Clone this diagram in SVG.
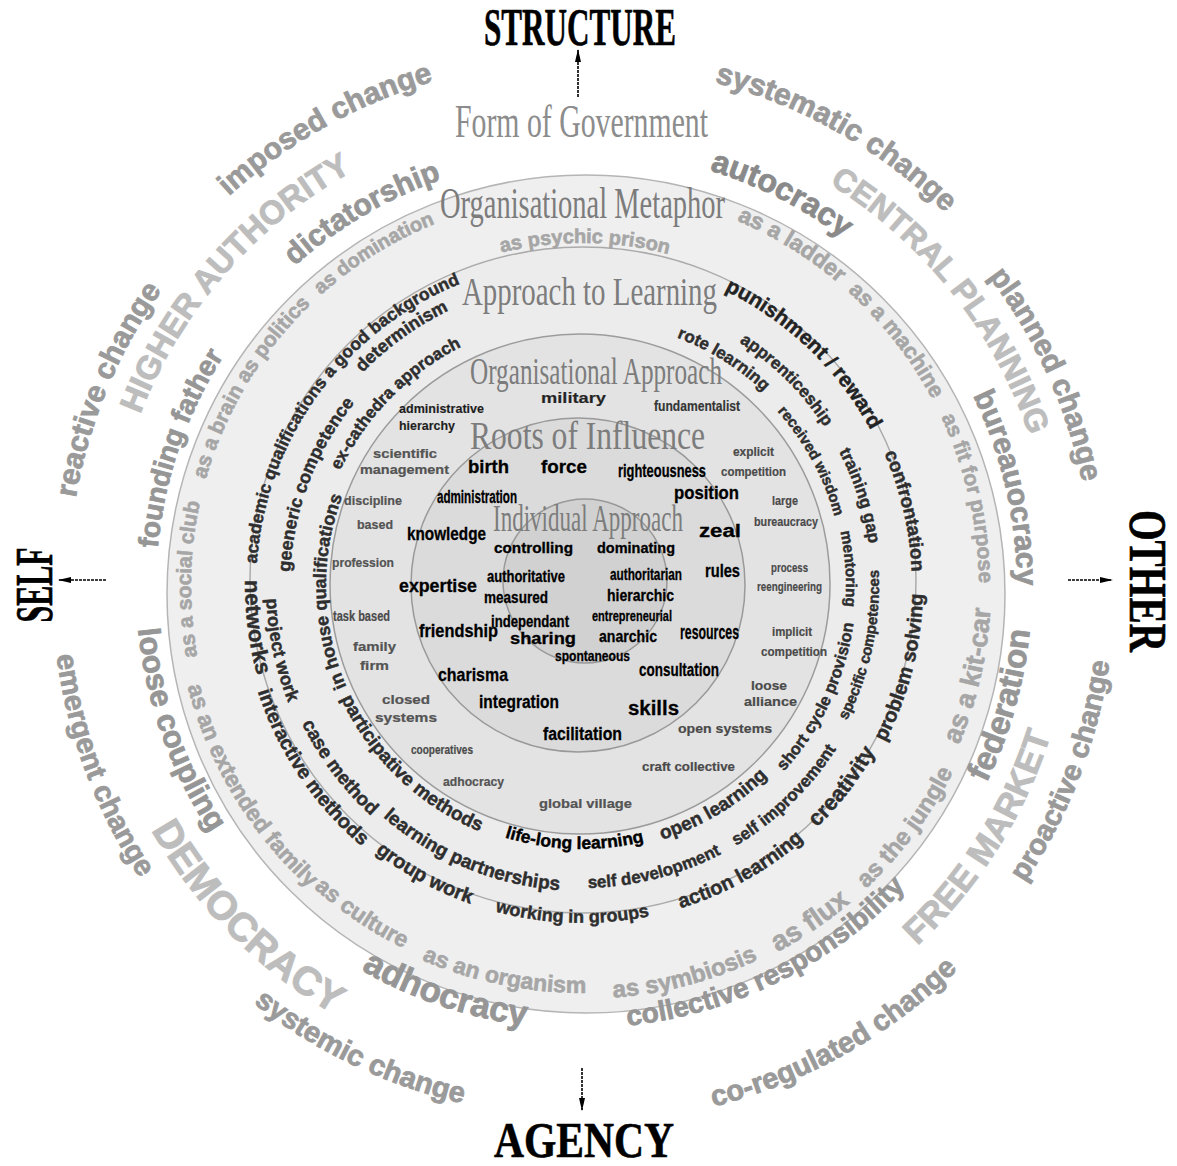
<svg xmlns="http://www.w3.org/2000/svg" width="1177" height="1166" viewBox="0 0 1177 1166">
<style>
  .s { font-family: "Liberation Sans", Arial, sans-serif; font-weight: bold; }
  .serif { font-family: "Liberation Serif", "Times New Roman", serif; }
  .arc { text-anchor: middle; }
  .chg { fill: #9a9a9a; stroke: #9a9a9a; stroke-width: 0.8; }
  .cap { fill: #bdbdbd; stroke: #bdbdbd; stroke-width: 0.9; }
  .form { fill: #969696; stroke: #969696; stroke-width: 0.8; }
  .meta { fill: #a6a6a6; stroke: #a6a6a6; stroke-width: 0.6; }
  .learn { fill: #2e2e2e; stroke: #2e2e2e; stroke-width: 0.45; }
  .org { fill: #4a4a4a; stroke: #4a4a4a; stroke-width: 0.2; }
  .orgd { fill: #1a1a1a; }
  .root { fill: #000; stroke: #000; stroke-width: 0.3; }
  .title { fill: #7c7c7c; }
  .axis { fill: #000; font-weight: bold; stroke: #000; stroke-width: 0.6; }
  .ring { stroke-width: 1.5; }
  .arrow { stroke: #000; stroke-width: 1.6; stroke-dasharray: 3 1; fill: none; }
</style>
<defs>
  <marker id="head" viewBox="0 0 13 6" refX="12" refY="3" markerWidth="13" markerHeight="6" markerUnits="userSpaceOnUse" orient="auto">
    <path d="M0,0 L13,3 L0,6 z" fill="#000"/>
  </marker>
  <!-- clockwise arcs (text over the top, letters pointing outward) -->
  <path id="w526" d="M56,586 A526,526 0 0 1 1108,586"/>
  <path id="w521" d="M61,586 A521,521 0 0 1 1103,586"/>
  <path id="w514" d="M68,586 A514,514 0 0 1 1096,586"/>
  <path id="w511" d="M71,586 A511,511 0 0 1 1093,586"/>
  <path id="w474" d="M108,586 A474,474 0 0 1 1056,586"/>
  <path id="w472" d="M110,586 A472,472 0 0 1 1054,586"/>
  <path id="w435" d="M147,586 A435,435 0 0 1 1017,586"/>
  <path id="w430" d="M152,586 A430,430 0 0 1 1012,586"/>
  <path id="w426" d="M156,586 A426,426 0 0 1 1008,586"/>
  <path id="w397" d="M185,586 A397,397 0 0 1 979,586"/>
  <path id="w391" d="M191,586 A391,391 0 0 1 973,586"/>
  <path id="w343" d="M239,586 A343,343 0 0 1 925,586"/>
  <path id="w330" d="M252,586 A330,330 0 0 1 912,586"/>
  <path id="w328" d="M254,586 A328,328 0 0 1 910,586"/>
  <path id="w326" d="M256,586 A326,326 0 0 1 908,586"/>
  <path id="w306" d="M276,586 A306,306 0 0 1 888,586"/>
  <path id="w292" d="M290,586 A292,292 0 0 1 874,586"/>
  <path id="w290" d="M292,586 A290,290 0 0 1 872,586"/>
  <path id="w268" d="M314,586 A268,268 0 0 1 850,586"/>
  <path id="w266" d="M316,586 A266,266 0 0 1 848,586"/>
  <path id="w264" d="M318,586 A264,264 0 0 1 846,586"/>
  <path id="w262" d="M320,586 A262,262 0 0 1 844,586"/>
  <path id="w256" d="M326,586 A256,256 0 0 1 838,586"/>
  <!-- counter-clockwise arcs (text under the bottom, letters pointing inward) -->
  <path id="c537" d="M45,586 A537,537 0 0 0 1119,586"/>
  <path id="c533" d="M49,586 A533,533 0 0 0 1115,586"/>
  <path id="c531" d="M51,586 A531,531 0 0 0 1113,586"/>
  <path id="c530" d="M52,586 A530,530 0 0 0 1112,586"/>
  <path id="c495" d="M87,586 A495,495 0 0 0 1077,586"/>
  <path id="c492" d="M90,586 A492,492 0 0 0 1074,586"/>
  <path id="c450" d="M132,586 A450,450 0 0 0 1032,586"/>
  <path id="c446" d="M136,586 A446,446 0 0 0 1028,586"/>
  <path id="c443" d="M139,586 A443,443 0 0 0 1025,586"/>
  <path id="c442" d="M140,586 A442,442 0 0 0 1024,586"/>
  <path id="c415" d="M167,586 A415,415 0 0 0 997,586"/>
  <path id="c413" d="M169,586 A413,413 0 0 0 995,586"/>
  <path id="c409" d="M173,586 A409,409 0 0 0 991,586"/>
  <path id="c407" d="M175,586 A407,407 0 0 0 989,586"/>
  <path id="c404" d="M178,586 A404,404 0 0 0 986,586"/>
  <path id="c341" d="M241,586 A341,341 0 0 0 923,586"/>
  <path id="c337" d="M245,586 A337,337 0 0 0 919,586"/>
  <path id="c316" d="M266,586 A316,316 0 0 0 898,586"/>
  <path id="c312" d="M270,586 A312,312 0 0 0 894,586"/>
  <path id="c305" d="M277,586 A305,305 0 0 0 887,586"/>
  <path id="c302" d="M280,586 A302,302 0 0 0 884,586"/>
  <path id="c297" d="M285,586 A297,297 0 0 0 879,586"/>
  <path id="c274" d="M308,586 A274,274 0 0 0 856,586"/>
  <path id="c266" d="M316,586 A266,266 0 0 0 848,586"/>
  <path id="c263" d="M319,586 A263,263 0 0 0 845,586"/>
</defs>

<rect width="1177" height="1166" fill="#fff"/>

<!-- concentric rings -->
<g id="rings">
  <circle id="ring-metaphor" class="ring" cx="586" cy="594" r="419" fill="#efefef" stroke="#b5b5b5"/>
  <circle id="ring-learning" class="ring" cx="583" cy="580" r="333" fill="#ececec" stroke="#ababab"/>
  <circle id="ring-organisation" class="ring" cx="580" cy="584" r="250" fill="#e3e3e3" stroke="#9c9c9c"/>
  <circle id="ring-roots" class="ring" cx="578" cy="585" r="167" fill="#dbdbdb" stroke="#999"/>
  <circle id="ring-individual" class="ring" cx="585" cy="581" r="82" fill="#d1d1d1" stroke="#999"/>
</g>

<!-- ring headings -->
<g id="headings" class="serif title">
  <text x="455" y="137" font-size="46" textLength="253" lengthAdjust="spacingAndGlyphs" fill="#8c8c8c">Form of Government</text>
  <text x="440" y="218" font-size="44" textLength="285" lengthAdjust="spacingAndGlyphs">Organisational Metaphor</text>
  <text x="462" y="305" font-size="40" textLength="255" lengthAdjust="spacingAndGlyphs">Approach to Learning</text>
  <text x="470" y="384" font-size="37" textLength="252" lengthAdjust="spacingAndGlyphs">Organisational Approach</text>
  <text x="470" y="449" font-size="40" textLength="235" lengthAdjust="spacingAndGlyphs">Roots of Influence</text>
  <text x="493" y="531" font-size="38" textLength="190" lengthAdjust="spacingAndGlyphs">Individual Approach</text>
</g>

<!-- styles of change, outermost band -->
<g id="change" class="s arc chg" font-size="30">
  <text transform="rotate(-29.3 582 586)"><textPath href="#w526" startOffset="50%">imposed change</textPath></text>
  <text transform="rotate(29.5 582 586)"><textPath href="#w521" startOffset="50%">systematic change</textPath></text>
  <text transform="rotate(-67.5 582 586)"><textPath href="#w514" startOffset="50%">reactive change</textPath></text>
  <text transform="rotate(65.5 582 586)"><textPath href="#w511" startOffset="50%">planned change</textPath></text>
  <text font-size="29" transform="rotate(69.5 582 586)"><textPath href="#c530" startOffset="50%">emergent change</textPath></text>
  <text font-size="29" transform="rotate(-69 582 586)"><textPath href="#c533" startOffset="50%">proactive change</textPath></text>
  <text font-size="29" transform="rotate(25.6 582 586)"><textPath href="#c531" startOffset="50%">systemic change</textPath></text>
  <text font-size="29" transform="rotate(-29.3 582 586)"><textPath href="#c537" startOffset="50%">co-regulated change</textPath></text>
</g>

<!-- quadrant names -->
<g id="quadrants" class="s arc cap">
  <text font-size="33" transform="rotate(-48.9 582 586)"><textPath href="#w474" startOffset="50%">HIGHER AUTHORITY</textPath></text>
  <text font-size="32" transform="rotate(51.5 582 586)"><textPath href="#w472" startOffset="50%">CENTRAL PLANNING</textPath></text>
  <text font-size="40" transform="rotate(45.3 582 586)"><textPath href="#c495" startOffset="50%">DEMOCRACY</textPath></text>
  <text font-size="35" transform="rotate(-57.7 582 586)"><textPath href="#c492" startOffset="50%">FREE MARKET</textPath></text>
</g>

<!-- forms of government -->
<g id="government" class="s arc form">
  <text font-size="30" transform="rotate(-30.5 582 586)"><textPath href="#w430" startOffset="50%">dictatorship</textPath></text>
  <text font-size="32" fill="#8a8a8a" stroke="#8a8a8a" transform="rotate(27 582 586)"><textPath href="#w435" startOffset="50%">autocracy</textPath></text>
  <text font-size="30" transform="rotate(77 582 586)"><textPath href="#w435" startOffset="50%">bureauocracy</textPath></text>
  <text font-size="33" transform="rotate(-74.2 582 586)"><textPath href="#c450" startOffset="50%">federation</textPath></text>
  <text font-size="35" transform="rotate(18.6 582 586)"><textPath href="#c443" startOffset="50%">adhocracy</textPath></text>
  <text font-size="28" transform="rotate(-26.5 582 586)"><textPath href="#c442" startOffset="50%">collective responsibility</textPath></text>
  <text font-size="31" transform="rotate(70.4 582 586)"><textPath href="#c446" startOffset="50%">loose coupling</textPath></text>
  <text font-size="28" transform="rotate(-71.1 582 586)"><textPath href="#w426" startOffset="50%">founding father</textPath></text>
</g>

<!-- organisational metaphors -->
<g id="metaphors" class="s arc meta">
  <text font-size="20" transform="rotate(0.5 582 586)"><textPath href="#w343" startOffset="50%">as psychic prison</textPath></text>
  <text font-size="23" transform="rotate(31.6 582 586)"><textPath href="#w397" startOffset="50%">as a ladder</textPath></text>
  <text font-size="22" transform="rotate(52 582 586)"><textPath href="#w397" startOffset="50%">as a machine</textPath></text>
  <text font-size="21" transform="rotate(77.2 582 586)"><textPath href="#w397" startOffset="50%">as fit for purpose</textPath></text>
  <text font-size="27" transform="rotate(-77 582 586)"><textPath href="#c409" startOffset="50%">as a kit-car</textPath></text>
  <text font-size="24" transform="rotate(-53.3 582 586)"><textPath href="#c415" startOffset="50%">as the jungle</textPath></text>
  <text font-size="28" transform="rotate(-34.2 582 586)"><textPath href="#c415" startOffset="50%">as flux</textPath></text>
  <text font-size="24" transform="rotate(-14.8 582 586)"><textPath href="#c413" startOffset="50%">as symbiosis</textPath></text>
  <text font-size="23" transform="rotate(11.3 582 586)"><textPath href="#c407" startOffset="50%">as an organism</textPath></text>
  <text font-size="23" transform="rotate(33.9 582 586)"><textPath href="#c404" startOffset="50%">as culture</textPath></text>
  <text font-size="23" transform="rotate(58.9 582 586)"><textPath href="#c407" startOffset="50%">as an extended family</textPath></text>
  <text font-size="21" transform="rotate(-89 582 586)"><textPath href="#w391" startOffset="50%">as a social club</textPath></text>
  <text font-size="21" transform="rotate(-67 582 586)"><textPath href="#w391" startOffset="50%">as a brain</textPath></text>
  <text font-size="21" transform="rotate(-51.4 582 586)"><textPath href="#w391" startOffset="50%">as politics</textPath></text>
  <text font-size="20" transform="rotate(-32 582 586)"><textPath href="#w391" startOffset="50%">as domination</textPath></text>
</g>

<!-- approaches to learning -->
<g id="learning" class="s arc learn">
  <text font-size="17.5" transform="rotate(-54 582 586)"><textPath href="#w326" startOffset="50%">academic qualifications a good background</textPath></text>
  <text font-size="18" transform="rotate(-35.8 582 586)"><textPath href="#w306" startOffset="50%">determinism</textPath></text>
  <text font-size="18" transform="rotate(-69.2 582 586)"><textPath href="#w292" startOffset="50%">geeneric competence</textPath></text>
  <text font-size="17" transform="rotate(-45.6 582 586)"><textPath href="#w268" startOffset="50%">ex-cathedra approach</textPath></text>
  <text font-size="18" transform="rotate(-91.3 582 586)"><textPath href="#w256" startOffset="50%">in house qualifications</textPath></text>
  <text font-size="21" fill="#222" stroke="#222" transform="rotate(43.7 582 586)"><textPath href="#w328" startOffset="50%">punishment / reward</textPath></text>
  <text font-size="17" transform="rotate(44.8 582 586)"><textPath href="#w290" startOffset="50%">apprenticeship</textPath></text>
  <text font-size="17" transform="rotate(32 582 586)"><textPath href="#w266" startOffset="50%">rote learning</textPath></text>
  <text font-size="15" transform="rotate(61.4 582 586)"><textPath href="#w262" startOffset="50%">received wisdom</textPath></text>
  <text font-size="17" transform="rotate(72 582 586)"><textPath href="#w290" startOffset="50%">training gap</textPath></text>
  <text font-size="19" transform="rotate(76.9 582 586)"><textPath href="#w330" startOffset="50%">confrontation</textPath></text>
  <text font-size="15.5" transform="rotate(86.3 582 586)"><textPath href="#w264" startOffset="50%">mentoring</textPath></text>
  <text font-size="15" transform="rotate(-78.1 582 586)"><textPath href="#c297" startOffset="50%">specific competences</textPath></text>
  <text font-size="20" transform="rotate(-75.7 582 586)"><textPath href="#c341" startOffset="50%">problem solving</textPath></text>
  <text font-size="16.5" transform="rotate(-64.8 582 586)"><textPath href="#c274" startOffset="50%">short cycle provision</textPath></text>
  <text font-size="22" transform="rotate(-52.4 582 586)"><textPath href="#c337" startOffset="50%">creativity</textPath></text>
  <text font-size="17" transform="rotate(-44 582 586)"><textPath href="#c302" startOffset="50%">self improvement</textPath></text>
  <text font-size="19" transform="rotate(-30.9 582 586)"><textPath href="#c266" startOffset="50%">open learning</textPath></text>
  <text font-size="20" transform="rotate(-29.1 582 586)"><textPath href="#c337" startOffset="50%">action learning</textPath></text>
  <text font-size="17" transform="rotate(-14.3 582 586)"><textPath href="#c302" startOffset="50%">self development</textPath></text>
  <text font-size="18" transform="rotate(1.7 582 586)"><textPath href="#c337" startOffset="50%">working in groups</textPath></text>
  <text font-size="17.5" fill="#000" stroke="#000" transform="rotate(1.7 582 586)"><textPath href="#c263" startOffset="50%">life-long learning</textPath></text>
  <text font-size="19" transform="rotate(22.5 582 586)"><textPath href="#c305" startOffset="50%">learning partnerships</textPath></text>
  <text font-size="20" transform="rotate(28.6 582 586)"><textPath href="#c337" startOffset="50%">group work</textPath></text>
  <text font-size="19" transform="rotate(53.2 582 586)"><textPath href="#c312" startOffset="50%">case method</textPath></text>
  <text font-size="20" transform="rotate(56.1 582 586)"><textPath href="#c341" startOffset="50%">interactive methods</textPath></text>
  <text font-size="22" transform="rotate(82.8 582 586)"><textPath href="#c337" startOffset="50%">networks</textPath></text>
  <text font-size="18" transform="rotate(78 582 586)"><textPath href="#c316" startOffset="50%">project work</textPath></text>
  <text font-size="19" transform="rotate(43.8 582 586)"><textPath href="#c266" startOffset="50%">participative methods</textPath></text>
</g>

<!-- organisational approaches -->
<g id="organisation" class="s org" font-size="13">
  <text class="orgd" x="399" y="413" textLength="85" lengthAdjust="spacingAndGlyphs">administrative</text>
  <text class="orgd" x="399" y="430" textLength="56" lengthAdjust="spacingAndGlyphs">hierarchy</text>
  <text fill="#222" font-size="14" x="541" y="403" textLength="65" lengthAdjust="spacingAndGlyphs">military</text>
  <text fill="#333" font-size="14" x="654" y="411" textLength="86" lengthAdjust="spacingAndGlyphs">fundamentalist</text>
  <text fill="#555" x="373" y="458" textLength="64" lengthAdjust="spacingAndGlyphs">scientific</text>
  <text fill="#555" x="360" y="474" textLength="89" lengthAdjust="spacingAndGlyphs">management</text>
  <text x="733" y="456" textLength="41" lengthAdjust="spacingAndGlyphs">explicit</text>
  <text x="721" y="476" textLength="65" lengthAdjust="spacingAndGlyphs">competition</text>
  <text fill="#555" x="344" y="505" textLength="58" lengthAdjust="spacingAndGlyphs">discipline</text>
  <text fill="#555" x="357" y="529" textLength="36" lengthAdjust="spacingAndGlyphs">based</text>
  <text x="772" y="505" textLength="26" lengthAdjust="spacingAndGlyphs">large</text>
  <text x="754" y="526" textLength="64" lengthAdjust="spacingAndGlyphs">bureaucracy</text>
  <text fill="#555" x="332" y="567" textLength="62" lengthAdjust="spacingAndGlyphs">profession</text>
  <text x="771" y="572" textLength="37" lengthAdjust="spacingAndGlyphs">process</text>
  <text x="757" y="591" textLength="65" lengthAdjust="spacingAndGlyphs">reengineering</text>
  <text font-size="14" x="333" y="621" textLength="57" lengthAdjust="spacingAndGlyphs">task based</text>
  <text fill="#555" x="353" y="651" textLength="43" lengthAdjust="spacingAndGlyphs">family</text>
  <text fill="#555" x="360" y="670" textLength="29" lengthAdjust="spacingAndGlyphs">firm</text>
  <text x="772" y="636" textLength="40" lengthAdjust="spacingAndGlyphs">implicit</text>
  <text x="761" y="656" textLength="66" lengthAdjust="spacingAndGlyphs">competition</text>
  <text fill="#555" x="382" y="704" textLength="48" lengthAdjust="spacingAndGlyphs">closed</text>
  <text fill="#555" x="375" y="722" textLength="62" lengthAdjust="spacingAndGlyphs">systems</text>
  <text x="751" y="690" textLength="36" lengthAdjust="spacingAndGlyphs">loose</text>
  <text x="744" y="706" textLength="53" lengthAdjust="spacingAndGlyphs">alliance</text>
  <text x="411" y="754" textLength="62" lengthAdjust="spacingAndGlyphs">cooperatives</text>
  <text x="678" y="733" textLength="94" lengthAdjust="spacingAndGlyphs">open systems</text>
  <text fill="#555" x="443" y="786" textLength="61" lengthAdjust="spacingAndGlyphs">adhocracy</text>
  <text x="642" y="771" textLength="93" lengthAdjust="spacingAndGlyphs">craft collective</text>
  <text fill="#555" x="539" y="808" textLength="93" lengthAdjust="spacingAndGlyphs">global village</text>
</g>

<!-- roots of influence -->
<g id="roots" class="s root" font-size="18">
  <text x="468" y="473" textLength="41" lengthAdjust="spacingAndGlyphs">birth</text>
  <text x="541" y="473" textLength="46" lengthAdjust="spacingAndGlyphs">force</text>
  <text x="618" y="477" textLength="88" lengthAdjust="spacingAndGlyphs">righteousness</text>
  <text x="437" y="503" textLength="80" lengthAdjust="spacingAndGlyphs">administration</text>
  <text x="674" y="499" textLength="65" lengthAdjust="spacingAndGlyphs">position</text>
  <text x="407" y="540" textLength="79" lengthAdjust="spacingAndGlyphs">knowledge</text>
  <text x="699" y="537" textLength="42" lengthAdjust="spacingAndGlyphs">zeal</text>
  <text x="705" y="577" textLength="35" lengthAdjust="spacingAndGlyphs">rules</text>
  <text x="399" y="592" textLength="78" lengthAdjust="spacingAndGlyphs">expertise</text>
  <text font-size="21" x="680" y="639" textLength="59" lengthAdjust="spacingAndGlyphs">resources</text>
  <text x="419" y="637" textLength="79" lengthAdjust="spacingAndGlyphs">friendship</text>
  <text font-size="19" x="438" y="681" textLength="70" lengthAdjust="spacingAndGlyphs">charisma</text>
  <text x="639" y="676" textLength="80" lengthAdjust="spacingAndGlyphs">consultation</text>
  <text x="479" y="708" textLength="80" lengthAdjust="spacingAndGlyphs">integration</text>
  <text font-size="20" x="628" y="715" textLength="51" lengthAdjust="spacingAndGlyphs">skills</text>
  <text x="543" y="740" textLength="79" lengthAdjust="spacingAndGlyphs">facilitation</text>
</g>

<!-- individual approaches -->
<g id="individual" class="s root" font-size="15">
  <text x="494" y="553" textLength="79" lengthAdjust="spacingAndGlyphs">controlling</text>
  <text x="597" y="553" textLength="78" lengthAdjust="spacingAndGlyphs">dominating</text>
  <text font-size="17" x="487" y="582" textLength="78" lengthAdjust="spacingAndGlyphs">authoritative</text>
  <text font-size="16" x="610" y="580" textLength="72" lengthAdjust="spacingAndGlyphs">authoritarian</text>
  <text font-size="16" x="484" y="603" textLength="64" lengthAdjust="spacingAndGlyphs">measured</text>
  <text font-size="17" x="607" y="601" textLength="67" lengthAdjust="spacingAndGlyphs">hierarchic</text>
  <text font-size="16" x="491" y="627" textLength="78" lengthAdjust="spacingAndGlyphs">independant</text>
  <text x="592" y="621" textLength="80" lengthAdjust="spacingAndGlyphs">entrepreneurial</text>
  <text font-size="16" x="510" y="644" textLength="66" lengthAdjust="spacingAndGlyphs">sharing</text>
  <text font-size="17" x="599" y="642" textLength="58" lengthAdjust="spacingAndGlyphs">anarchic</text>
  <text x="555" y="661" textLength="75" lengthAdjust="spacingAndGlyphs">spontaneous</text>
</g>

<!-- axis labels -->
<g id="axes" class="serif axis">
  <text x="580" y="45" font-size="52" text-anchor="middle" textLength="192" lengthAdjust="spacingAndGlyphs">STRUCTURE</text>
  <text x="584" y="1157" font-size="50" text-anchor="middle" textLength="180" lengthAdjust="spacingAndGlyphs">AGENCY</text>
  <text transform="translate(52 585) rotate(-90)" font-size="52" text-anchor="middle" textLength="75" lengthAdjust="spacingAndGlyphs">SELF</text>
  <text transform="translate(1130 581) rotate(90)" font-size="52" text-anchor="middle" textLength="142" lengthAdjust="spacingAndGlyphs">OTHER</text>
</g>

<!-- axis arrows -->
<g id="connectors">
  <line class="arrow" x1="578" y1="97" x2="578" y2="50" marker-end="url(#head)"/>
  <line class="arrow" x1="106" y1="580" x2="59" y2="580" marker-end="url(#head)"/>
  <line class="arrow" x1="1068" y1="580" x2="1112" y2="580" marker-end="url(#head)"/>
  <line class="arrow" x1="582" y1="1068" x2="582" y2="1110" marker-end="url(#head)"/>
</g>
</svg>
